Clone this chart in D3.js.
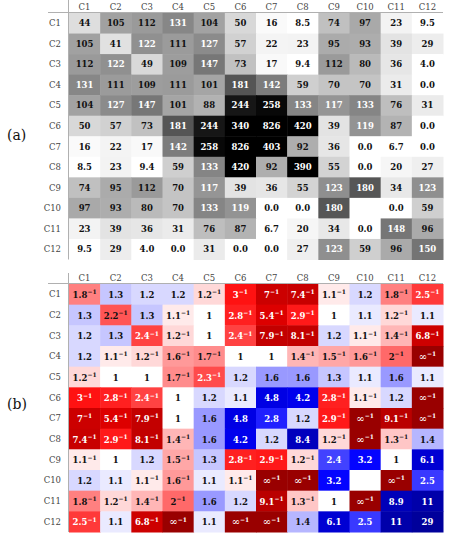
<!DOCTYPE html>
<html>
<head>
<meta charset="utf-8">
<script src="https://cdn.jsdelivr.net/npm/d3@7"></script>
<style>
  body { margin: 0; background: #fff; }
</style>
</head>
<body>
<script>
var labels = ["C1","C2","C3","C4","C5","C6","C7","C8","C9","C10","C11","C12"];

// (a) counts, null = empty cell
var counts = [
  [44, 105, 112, 131, 104, 50, 16, 8.5, 74, 97, 23, 9.5],
  [105, 41, 122, 111, 127, 57, 22, 23, 95, 93, 39, 29],
  [112, 122, 49, 109, 147, 73, 17, 9.4, 112, 80, 36, 4.0],
  [131, 111, 109, 111, 101, 181, 142, 59, 70, 70, 31, 0.0],
  [104, 127, 147, 101, 88, 244, 258, 133, 117, 133, 76, 31],
  [50, 57, 73, 181, 244, 340, 826, 420, 39, 119, 87, 0.0],
  [16, 22, 17, 142, 258, 826, 403, 92, 36, 0.0, 6.7, 0.0],
  [8.5, 23, 9.4, 59, 133, 420, 92, 390, 55, 0.0, 20, 27],
  [74, 95, 112, 70, 117, 39, 36, 55, 123, 180, 34, 123],
  [97, 93, 80, 70, 133, 119, 0.0, 0.0, 180, null, 0.0, 59],
  [23, 39, 36, 31, 76, 87, 6.7, 20, 34, 0.0, 148, 96],
  [9.5, 29, 4.0, 0.0, 31, 0.0, 0.0, 27, 123, 59, 96, 150]
];

// (b) fold change: positive = x-fold up, negative = x-fold down (shown as x^-1)
var I = -Infinity;
var folds = [
  [-1.8, 1.3, 1.2, 1.2, -1.2, -3, -7, -7.4, -1.1, 1.2, -1.8, -2.5],
  [1.3, -2.2, 1.3, -1.1, 1, -2.8, -5.4, -2.9, 1, 1.1, -1.2, 1.1],
  [1.2, 1.3, -2.4, -1.2, 1, -2.4, -7.9, -8.1, 1.2, -1.1, -1.4, -6.8],
  [1.2, -1.1, -1.2, -1.6, -1.7, 1, 1, -1.4, -1.5, -1.6, -2, I],
  [-1.2, 1, 1, -1.7, -2.3, 1.2, 1.6, 1.6, 1.3, 1.1, 1.6, 1.1],
  [-3, -2.8, -2.4, 1, 1.2, 1.1, 4.8, 4.2, -2.8, -1.1, 1.2, I],
  [-7, -5.4, -7.9, 1, 1.6, 4.8, 2.8, 1.2, -2.9, I, -9.1, I],
  [-7.4, -2.9, -8.1, -1.4, 1.6, 4.2, 1.2, 8.4, -1.2, I, -1.3, 1.4],
  [-1.1, 1, 1.2, -1.5, 1.3, -2.8, -2.9, -1.2, 2.4, 3.2, 1, 6.1],
  [1.2, 1.1, -1.1, -1.6, 1.1, -1.1, I, I, 3.2, null, I, 2.5],
  [-1.8, -1.2, -1.4, -2, 1.6, 1.2, -9.1, -1.3, 1, I, 8.9, 11],
  [-2.5, 1.1, -6.8, I, 1.1, I, I, 1.4, 6.1, 2.5, 11, 29]
];

var font = "DejaVu Serif, Liberation Serif, serif";

var svg = d3.select("body")
      .append("svg")
      .attr("width", 451)
      .attr("height", 537)
      .attr("font-family", font)

var x = d3.scaleBand().domain(labels).range([69, 443])
var yA = d3.scaleBand().domain(labels).range([13, 259.5])
var yB = d3.scaleBand().domain(labels).range([284, 532])

var gray = d3.scaleLinear().domain([0, 11, 266, 1000]).range([255, 255, 0, 0]).clamp(true)

// log fold -> colour, red for down, blue for up
var div = d3.scaleLinear()
  .domain([-5, -3.4, -2.4, -1.18, 0, 1.18, 2.4, 3.4, 5])
  .range(["#990000", "#9b0000", "#ad0000", "#ff0000", "#ffffff", "#0000ff", "#0000aa", "#00009a", "#000099"])
  .clamp(true)

function logFold(v) {
  if (v === I) return -5;
  return v < 0 ? -Math.log(-v) : Math.log(v);
}

function flat(m) {
  var out = [];
  m.forEach(function(row, i) {
    row.forEach(function(v, j) {
      out.push({r: labels[i], c: labels[j], v: v});
    })
  })
  return out;
}

function drawFrame(y, top) {
  svg.append("line")
    .attr("x1", 68.5).attr("x2", 68.5)
    .attr("y1", top).attr("y2", y.range()[1])
    .attr("stroke", "#b0b0b0").attr("stroke-width", 1)
  svg.append("line")
    .attr("x1", 48).attr("x2", 443)
    .attr("y1", y.range()[0] - 0.5).attr("y2", y.range()[0] - 0.5)
    .attr("stroke", "#b0b0b0").attr("stroke-width", 1)

  svg.append("g").selectAll("text")
    .data(labels)
    .enter().append("text")
    .attr("x", function(d){ return x(d) + x.bandwidth() / 2 })
    .attr("y", y.range()[0] - 3.5)
    .attr("text-anchor", "middle")
    .attr("font-size", 8.5)
    .attr("fill", "#444")
    .text(function(d){ return d })

  svg.append("g").selectAll("text")
    .data(labels)
    .enter().append("text")
    .attr("x", 61)
    .attr("y", function(d){ return y(d) + y.bandwidth() / 2 + 3 })
    .attr("text-anchor", "end")
    .attr("font-size", 8.5)
    .attr("fill", "#444")
    .text(function(d){ return d })
}

// ---- (a)
var cellsA = flat(counts);
svg.append("g").selectAll("rect")
  .data(cellsA)
  .enter().append("rect")
  .attr("x", function(d){ return x(d.c) })
  .attr("y", function(d){ return yA(d.r) })
  .attr("width", x.bandwidth() + 0.5)
  .attr("height", yA.bandwidth() + 0.5)
  .attr("fill", function(d){
    if (d.v === null) return "#fff";
    var g = Math.round(gray(d.v));
    return d3.rgb(g, g, g);
  })

svg.append("g").selectAll("text")
  .data(cellsA.filter(function(d){ return d.v !== null }))
  .enter().append("text")
  .attr("x", function(d){ return x(d.c) + x.bandwidth() / 2 })
  .attr("y", function(d){ return yA(d.r) + yA.bandwidth() / 2 + 3 })
  .attr("text-anchor", "middle")
  .attr("font-size", 8.5)
  .attr("font-weight", "bold")
  .attr("fill", function(d){ return d.v > 115 ? "#fff" : "#111" })
  .text(function(d){ return d.v < 10 ? d.v.toFixed(1) : d3.format("d")(d.v) })

drawFrame(yA, 0)

// ---- (b)
var cellsB = flat(folds);
svg.append("g").selectAll("rect")
  .data(cellsB)
  .enter().append("rect")
  .attr("x", function(d){ return x(d.c) })
  .attr("y", function(d){ return yB(d.r) })
  .attr("width", x.bandwidth() + 0.5)
  .attr("height", yB.bandwidth() + 0.5)
  .attr("fill", function(d){ return d.v === null ? "#fff" : div(logFold(d.v)) })

var lab = svg.append("g").selectAll("text")
  .data(cellsB.filter(function(d){ return d.v !== null }))
  .enter().append("text")
  .attr("x", function(d){ return x(d.c) + x.bandwidth() / 2 })
  .attr("y", function(d){ return yB(d.r) + yB.bandwidth() / 2 + 3.5 })
  .attr("text-anchor", "middle")
  .attr("font-size", 8.5)
  .attr("font-weight", "bold")
  .attr("fill", function(d){ return Math.abs(logFold(d.v)) > 0.8 ? "#fff" : "#111" })

lab.append("tspan")
  .attr("font-size", function(d){ return d.v === I ? 10 : null })
  .attr("font-weight", function(d){ return d.v === I ? "normal" : null })
  .text(function(d){
    if (d.v === I) return "\u221e";
    return String(Math.abs(d.v));
  })
lab.filter(function(d){ return d.v < 0 })
  .append("tspan")
  .attr("dy", -3.5)
  .attr("font-size", 6)
  .text("\u22121")

drawFrame(yB, 273)

// panel tags
svg.append("text").attr("x", 7).attr("y", 140).attr("font-size", 14).attr("fill", "#111").text("(a)")
svg.append("text").attr("x", 7).attr("y", 409).attr("font-size", 14).attr("fill", "#111").text("(b)")
</script>
</body>
</html>
